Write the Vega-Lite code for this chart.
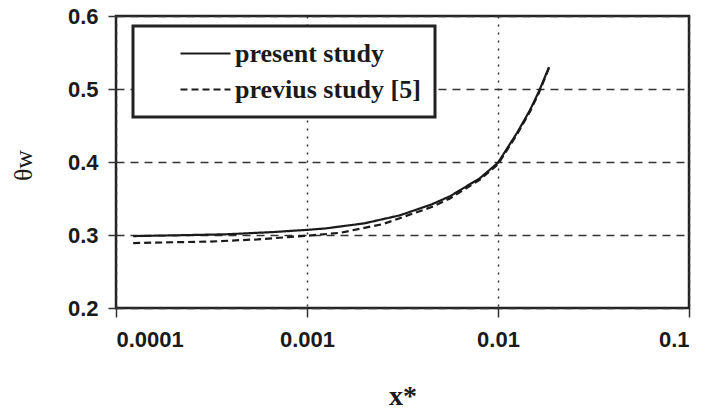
{
  "$schema": "https://vega.github.io/schema/vega-lite/v6.json",
  "width": 573,
  "height": 292,
  "autosize": "none",
  "padding": {"left": 116, "top": 16, "right": 19, "bottom": 102},
  "background": "white",
  "config": {
    "view": {"stroke": "#222", "strokeWidth": 2.5},
    "axis": {"domain": false},
    "legend": {"strokeWidth": 3}
  },
  "data": {
    "values": [
      {"series": "present study", "x": 0.000123, "y": 0.2985},
      {"series": "present study", "x": 0.0002, "y": 0.2995},
      {"series": "present study", "x": 0.00038, "y": 0.301},
      {"series": "present study", "x": 0.00066, "y": 0.304},
      {"series": "present study", "x": 0.001, "y": 0.307},
      {"series": "present study", "x": 0.00125, "y": 0.309},
      {"series": "present study", "x": 0.002, "y": 0.316},
      {"series": "present study", "x": 0.00307, "y": 0.327},
      {"series": "present study", "x": 0.0045, "y": 0.342},
      {"series": "present study", "x": 0.0056, "y": 0.353},
      {"series": "present study", "x": 0.00806, "y": 0.378},
      {"series": "present study", "x": 0.01, "y": 0.399},
      {"series": "present study", "x": 0.01259, "y": 0.44},
      {"series": "present study", "x": 0.0147, "y": 0.471},
      {"series": "present study", "x": 0.0164, "y": 0.497},
      {"series": "present study", "x": 0.0185, "y": 0.53},
      {"series": "previus study [5]", "x": 0.000123, "y": 0.289},
      {"series": "previus study [5]", "x": 0.00031, "y": 0.291},
      {"series": "previus study [5]", "x": 0.00055, "y": 0.294},
      {"series": "previus study [5]", "x": 0.00079, "y": 0.297},
      {"series": "previus study [5]", "x": 0.001, "y": 0.299},
      {"series": "previus study [5]", "x": 0.00149, "y": 0.303},
      {"series": "previus study [5]", "x": 0.0025, "y": 0.315},
      {"series": "previus study [5]", "x": 0.00457, "y": 0.339},
      {"series": "previus study [5]", "x": 0.0056, "y": 0.35},
      {"series": "previus study [5]", "x": 0.00806, "y": 0.376},
      {"series": "previus study [5]", "x": 0.01, "y": 0.397},
      {"series": "previus study [5]", "x": 0.01259, "y": 0.438},
      {"series": "previus study [5]", "x": 0.0147, "y": 0.469},
      {"series": "previus study [5]", "x": 0.0164, "y": 0.495},
      {"series": "previus study [5]", "x": 0.0185, "y": 0.529}
    ]
  },
  "mark": {"type": "line", "color": "#1a1a1a", "strokeWidth": 2.2, "clip": true},
  "encoding": {
    "x": {
      "field": "x",
      "type": "quantitative",
      "scale": {"type": "log", "domain": [0.0001, 0.1]},
      "axis": {
        "values": [0.0001, 0.001, 0.01, 0.1],
        "format": ".4~f",
        "labelFont": "Liberation Sans",
        "labelFontWeight": "bold",
        "labelFontSize": 22,
        "labelColor": "#1a1a1a",
        "labelPadding": 12,
        "tickSize": 9,
        "tickColor": "#333",
        "tickWidth": 1.5,
        "grid": true,
        "gridDash": [2, 6],
        "gridColor": "#333",
        "gridWidth": 1.5,
        "gridOpacity": 1,
        "title": "x*",
        "titleFont": "Liberation Serif",
        "titleFontWeight": "bold",
        "titleFontSize": 28,
        "titleColor": "#1a1a1a",
        "titleBaseline": "alphabetic",
        "titleY": 96
      }
    },
    "y": {
      "field": "y",
      "type": "quantitative",
      "scale": {"domain": [0.2, 0.6]},
      "axis": {
        "values": [0.2, 0.3, 0.4, 0.5, 0.6],
        "format": ".1f",
        "labelFont": "Liberation Sans",
        "labelFontWeight": "bold",
        "labelFontSize": 22,
        "labelColor": "#1a1a1a",
        "labelPadding": 10,
        "tickSize": 8,
        "tickColor": "#333",
        "tickWidth": 1.5,
        "grid": true,
        "gridDash": [8, 6],
        "gridColor": "#333",
        "gridWidth": 1.5,
        "gridOpacity": 1,
        "title": "θw",
        "titleFont": "Liberation Serif",
        "titleFontWeight": "normal",
        "titleFontSize": 26,
        "titleColor": "#1a1a1a",
        "titleAngle": -90,
        "titleBaseline": "middle",
        "titleX": -93,
        "titleY": 149
      }
    },
    "strokeDash": {
      "field": "series",
      "type": "nominal",
      "scale": {
        "domain": ["present study", "previus study [5]"],
        "range": [[1, 0], [7, 4]]
      },
      "legend": {
        "title": null,
        "orient": "none",
        "legendX": 17,
        "legendY": 10,
        "padding": 14,
        "rowPadding": 9,
        "fillColor": "white",
        "strokeColor": "#222",
        "symbolType": "M-2,0H2",
        "symbolSize": 625,
        "symbolStrokeWidth": 1.8,
        "symbolStrokeColor": "#1a1a1a",
        "symbolFillColor": "transparent",
        "symbolOffset": 45,
        "labelOffset": 16,
        "labelFont": "Liberation Serif",
        "labelFontWeight": "bold",
        "labelFontSize": 26,
        "labelColor": "#1a1a1a",
        "labelLimit": 400
      }
    }
  }
}
